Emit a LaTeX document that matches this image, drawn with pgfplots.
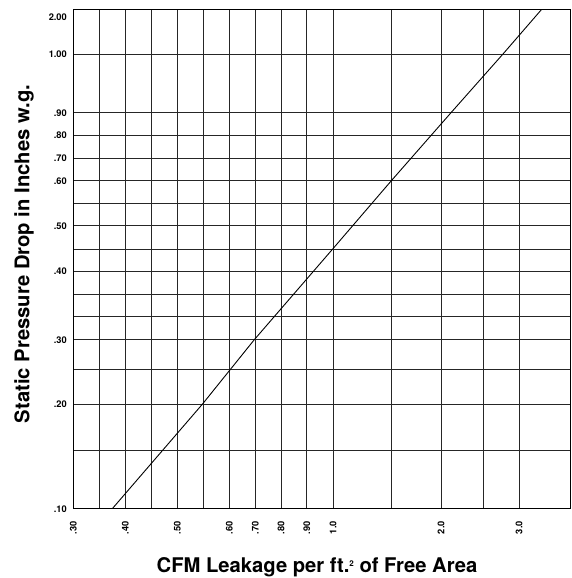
\documentclass[border=0pt]{standalone}
\usepackage{pgfplots}
\pgfplotsset{compat=1.18}
\usepackage{fontspec}
\setmainfont{TeX Gyre Heros}
\begin{document}
\begin{tikzpicture}
\begin{axis}[
  scale only axis, width=496.7bp, height=499.4bp,
  xmin=73.3, xmax=570, ymin=69.3, ymax=568.7,
  axis line style={line width=0.9bp, black},
  grid=major, grid style={line width=0.75bp, black!85},
  major tick length=0pt,
  xtick={73.3,99.3,125.3,151.3,177.3,203.3,229.3,255.3,281,306.7,333,391.7,441,483.3,519,570},
  xticklabels={.30,,.40,,.50,,.60,.70,.80,.90,1.0,,2.0,,3.0,},
  ytick={69.3,127.7,173.7,209,238.3,261.3,284,306.7,329,352.3,374.7,397.3,420,442.7,465.3,524},
  yticklabels={.10,,.20,,.30,,,.40,,.50,,.60,.70,.80,.90,1.00},
  extra y ticks={561}, extra y tick labels={2.00}, extra y tick style={grid=none},
  tick label style={font=\fontsize{9.3}{10}\selectfont\bfseries},
  /pgf/number format/assume math mode=true,
  xticklabel style={rotate=90, anchor=east},
  xticklabel shift=9bp, yticklabel shift=3bp,
  xlabel={CFM Leakage per ft.\raisebox{6bp}{\fontsize{8}{9}\selectfont 2} of Free Area},
  ylabel={Static Pressure Drop in Inches w.g.},
  label style={font=\fontsize{20.3}{24}\selectfont\bfseries},
  xlabel style={at={(axis description cs:0.4906,-0.1275)}, anchor=base},
  ylabel style={at={(axis description cs:-0.0882,0.510)}, anchor=base},
]
\addplot[black, line width=0.9bp] coordinates {
  (112.3,69.3) (202.3,173.7) (254.3,238.3) (332.7,329) (391.7,397.7)
  (451,465.3) (503,524) (541.7,568.7)
};
\end{axis}
\pgfresetboundingbox
\path ([shift={(-73.3bp,-69.3bp)}]current axis.south west) rectangle ([shift={(2bp,9.3bp)}]current axis.north east);
\end{tikzpicture}
\end{document}
